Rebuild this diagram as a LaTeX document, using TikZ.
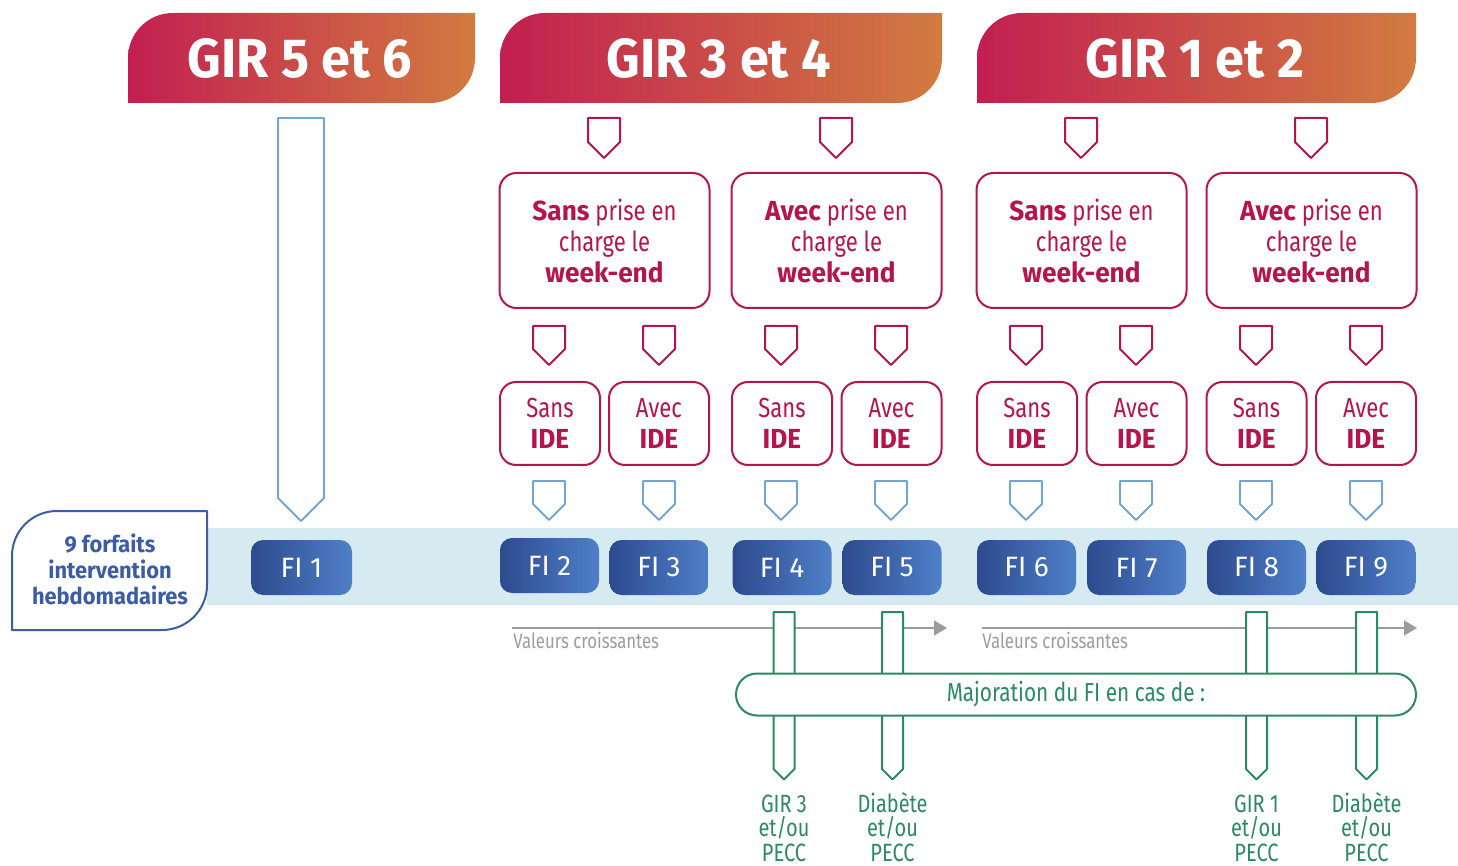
\documentclass[tikz,border=0pt]{standalone}
\usepackage{fontspec}
\setmainfont{Fira Sans}[UprightFeatures = {FakeStretch = 0.8}, BoldFeatures = {FakeStretch = 0.95}]
\newfontfamily\widefont{Fira Sans}
\usetikzlibrary{arrows.meta}

\definecolor{girred}{HTML}{C21F50}
\definecolor{girorange}{HTML}{D27B40}
\definecolor{wine}{HTML}{B5154B}
\definecolor{tagblue}{HTML}{6FA6DA}
\definecolor{bandblue}{HTML}{D6EAF2}
\definecolor{fidark}{HTML}{2D4A8E}
\definecolor{filight}{HTML}{4F80C8}
\definecolor{navy}{HTML}{3C5CA4}
\definecolor{pine}{HTML}{2A8A62}
\definecolor{ash}{HTML}{9C9C9C}

\newcommand\girhead[2]{%
  \shade[left color=girred, right color=girorange]
    (#1,103) -- (#1,58) .. controls (#1,33) and (#1+20,13) .. (#1+45,13)
    -- (#2,13) -- (#2,58) .. controls (#2,83) and (#2-20,103) .. (#2-45,103) -- cycle;}
\newcommand\tagdown[5]{%
  \draw[#1] (#2-#5,#3) -- (#2+#5,#3) -- (#2+#5,#4) -- (#2,#4+#5) -- (#2-#5,#4) -- cycle;}

\begin{document}
\begin{tikzpicture}[
    x = 0.5pt,
    y = -0.5pt,
    line join = round,
    gir/.style = {
      text = white,
      font = \fontsize{27.5}{30}\selectfont\bfseries
    },
    redtag/.style = {draw = wine, line width = 1pt},
    bluetag/.style = {draw = tagblue, line width = 0.9pt},
    greentag/.style = {draw = pine, fill = white, line width = 1pt},
    wkbox/.style = {
      draw = wine,
      line width = 1pt,
      rounded corners = 8.5pt,
      minimum width = 105pt,
      minimum height = 67.5pt,
      align = center,
      text = wine,
      font = \fontsize{13.8}{15.5}\selectfont
    },
    idebox/.style = {
      wkbox,
      rounded corners = 8pt,
      minimum width = 50pt,
      minimum height = 41.5pt
    },
    fi/.style = {
      left color = fidark,
      right color = filight,
      rounded corners = 6pt,
      minimum width = 49.5pt,
      minimum height = 27.5pt,
      text = white,
      font = \fontsize{14}{16}\widefont
    },
    gnote/.style = {
      anchor = base,
      inner sep = 0pt,
      align = center,
      text = pine,
      font = \fontsize{12.5}{12.2}\selectfont
    }
  ]
  \useasboundingbox (0,0) rectangle (1458,866);

  \girhead{128}{475}
  \girhead{500}{942}
  \girhead{977}{1416}
  \node[gir] (gir56) at (300,58) {GIR 5 et 6};
  \node[gir] (gir34) at (719,58) {GIR 3 et 4};
  \node[gir] (gir12) at (1195,58) {GIR 1 et 2};

  \tagdown{redtag}{604}{118}{142}{16}
  \tagdown{redtag}{836}{118}{142}{16}
  \tagdown{redtag}{1081}{118}{142}{16}
  \tagdown{redtag}{1311}{118}{142}{16}

  \node[wkbox] (w34s) at (604.5,240.5) {\textbf{Sans} prise en\\charge le\\\textbf{week-end}};
  \node[wkbox] (w34a) at (836.5,240.5) {\textbf{Avec} prise en\\charge le\\\textbf{week-end}};
  \node[wkbox] (w12s) at (1081.5,240.5) {\textbf{Sans} prise en\\charge le\\\textbf{week-end}};
  \node[wkbox] (w12a) at (1311.5,240.5) {\textbf{Avec} prise en\\charge le\\\textbf{week-end}};

  \tagdown{redtag}{549}{326}{349}{16}
  \tagdown{redtag}{659}{326}{349}{16}
  \tagdown{redtag}{781}{326}{349}{16}
  \tagdown{redtag}{891}{326}{349}{16}
  \tagdown{redtag}{1026}{326}{349}{16}
  \tagdown{redtag}{1136}{326}{349}{16}
  \tagdown{redtag}{1256}{326}{349}{16}
  \tagdown{redtag}{1366}{326}{349}{16}

  \node[idebox] (i2) at (550,423.5) {Sans\\\textbf{IDE}};
  \node[idebox] (i3) at (659,423.5) {Avec\\\textbf{IDE}};
  \node[idebox] (i4) at (782,423.5) {Sans\\\textbf{IDE}};
  \node[idebox] (i5) at (891.5,423.5) {Avec\\\textbf{IDE}};
  \node[idebox] (i6) at (1027,423.5) {Sans\\\textbf{IDE}};
  \node[idebox] (i7) at (1136.5,423.5) {Avec\\\textbf{IDE}};
  \node[idebox] (i8) at (1256.5,423.5) {Sans\\\textbf{IDE}};
  \node[idebox] (i9) at (1366,423.5) {Avec\\\textbf{IDE}};

  \tagdown{bluetag}{301}{118}{498}{23}
  \tagdown{bluetag}{549}{481}{504}{16}
  \tagdown{bluetag}{659}{481}{504}{16}
  \tagdown{bluetag}{781}{481}{504}{16}
  \tagdown{bluetag}{891}{481}{504}{16}
  \tagdown{bluetag}{1026}{481}{504}{16}
  \tagdown{bluetag}{1136}{481}{504}{16}
  \tagdown{bluetag}{1256}{481}{504}{16}
  \tagdown{bluetag}{1366}{481}{504}{16}

  \fill[bandblue] (207,528) rectangle (1458,605);

  \node[fi, minimum width = 50.5pt] (fi1) at (301.5,567.5) {FI 1};
  \node[fi] (fi2) at (549.5,565.5) {FI 2};
  \node[fi] (fi3) at (659,567.5) {FI 3};
  \node[fi] (fi4) at (782,567.5) {FI 4};
  \node[fi] (fi5) at (892,567.5) {FI 5};
  \node[fi] (fi6) at (1026.5,567.5) {FI 6};
  \node[fi] (fi7) at (1136.5,567.5) {FI 7};
  \node[fi] (fi8) at (1256.5,567.5) {FI 8};
  \node[fi] (fi9) at (1366,567.5) {FI 9};

  \draw[navy, line width = 1pt, fill = white]
    (12,630) -- (12,556) .. controls (12,531) and (32,511) .. (57,511)
    -- (207,511) -- (207,585) .. controls (207,610) and (187,630) .. (162,630) -- cycle;
  \node[text = navy, align = center, font = \fontsize{11.5}{13}\selectfont\bfseries]
    (forfaits) at (110,569) {9 forfaits\\intervention\\hebdomadaires};

  \draw[ash, line width = 0.8pt, -{Triangle[length = 6.5pt, width = 7.5pt]}] (512,628) -- (947,628);
  \draw[ash, line width = 0.8pt, -{Triangle[length = 6.5pt, width = 7.5pt]}] (982,628) -- (1417,628);
  \node[anchor = base west, inner sep = 0pt, text = ash, font = \fontsize{10.5}{12}\selectfont]
    (val34) at (513,648) {Valeurs croissantes};
  \node[anchor = base west, inner sep = 0pt, text = ash, font = \fontsize{10.5}{12}\selectfont]
    (val12) at (982,648) {Valeurs croissantes};

  \tagdown{greentag}{784}{612}{769}{10.5}
  \tagdown{greentag}{892.5}{612}{769}{10.5}
  \tagdown{greentag}{1256.5}{612}{769}{10.5}
  \tagdown{greentag}{1366.5}{612}{769}{10.5}

  \node[draw = pine, fill = white, line width = 1pt, rounded corners = 10.5pt,
    minimum width = 340pt, minimum height = 21pt, text = pine,
    font = \fontsize{13}{15}\selectfont] (major) at (1076,694.5) {Majoration du FI en cas de :};

  \node[gnote] (m3) at (784,861) {GIR 3\\et/ou\\PECC};
  \node[gnote] (md34) at (892.5,861) {Diabète\\et/ou\\PECC};
  \node[gnote] (m1) at (1256.5,861) {GIR 1\\et/ou\\PECC};
  \node[gnote] (md12) at (1366.5,861) {Diabète\\et/ou\\PECC};
\end{tikzpicture}
\end{document}
